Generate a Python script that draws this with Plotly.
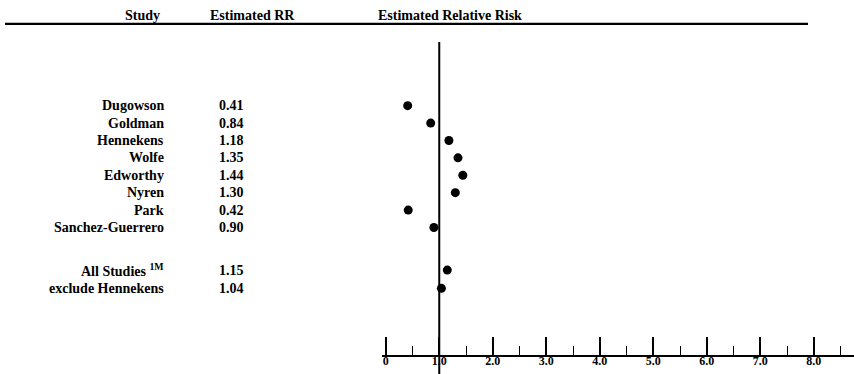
import plotly.graph_objects as go

studies = ["Dugowson", "Goldman", "Hennekens", "Wolfe", "Edworthy", "Nyren", "Park",
           "Sanchez-Guerrero", "All Studies <sup>1M</sup>", "exclude Hennekens"]
rr_values = [0.41, 0.84, 1.18, 1.35, 1.44, 1.30, 0.42, 0.90, 1.15, 1.04]
rr_labels = ["0.41", "0.84", "1.18", "1.35", "1.44", "1.30", "0.42", "0.90", "1.15", "1.04"]
row_pos = [1, 2, 3, 4, 5, 6, 7, 8, 10.45, 11.5]
tick_vals = [0, 1, 2, 3, 4, 5, 6, 7, 8]
tick_text = ["0", "1.0", "2.0", "3.0", "4.0", "5.0", "6.0", "7.0", "8.0"]
headers = ["Study", "Estimated RR", "Estimated Relative Risk"]

W, H = 854, 374
FONT = "Liberation Serif, Times New Roman, serif"

fig = go.Figure()
fig.add_trace(go.Scatter(
    x=rr_values, y=row_pos, mode="markers",
    marker=dict(color="black", size=9),
    hoverinfo="skip", showlegend=False, cliponaxis=False))

annotations = []
for name, lab, y in zip(studies, rr_labels, row_pos):
    annotations.append(dict(x=166 / W, y=y, xref="paper", yref="y", text=f"<b>{name}</b>",
                            showarrow=False, xanchor="right", yanchor="middle",
                            font=dict(family=FONT, size=14, color="black")))
    annotations.append(dict(x=217 / W, y=y, xref="paper", yref="y", text=f"<b>{lab}</b>",
                            showarrow=False, xanchor="left", yanchor="middle",
                            font=dict(family=FONT, size=14, color="black")))

header_x = [142 / W, 252 / W, 376 / W]
header_anchor = ["center", "center", "left"]
for t, hx, anc in zip(headers, header_x, header_anchor):
    annotations.append(dict(x=hx, y=1.062, xref="paper", yref="paper", text=f"<b>{t}</b>",
                            showarrow=False, xanchor=anc, yanchor="bottom", yshift=-2,
                            font=dict(family=FONT, size=14, color="black")))

shapes = [
    dict(type="line", xref="paper", yref="paper", x0=5 / W, x1=808 / W, y0=1.058, y1=1.058,
         line=dict(color="black", width=2.2)),
    dict(type="line", xref="x", yref="paper", x0=1, x1=1, y0=-0.07, y1=1.0,
         line=dict(color="black", width=2)),
]

fig.update_layout(
    width=W, height=H,
    margin=dict(l=0, r=0, t=42, b=19),
    paper_bgcolor="white", plot_bgcolor="white",
    annotations=annotations, shapes=shapes,
    xaxis=dict(domain=[382 / W, 1], range=[-0.07, 8.75],
               showgrid=False, zeroline=False,
               showline=True, linecolor="black", linewidth=1.5,
               ticks="inside", ticklen=18, tickwidth=1.5, tickcolor="black",
               tickvals=tick_vals, ticktext=[f"<b>{t}</b>" for t in tick_text],
               tickfont=dict(family=FONT, size=12, color="black"),
               ticklabelstandoff=-6,
               minor=dict(ticks="inside", ticklen=9, tickwidth=1.2, tickcolor="black", dtick=0.5),
               fixedrange=True),
    yaxis=dict(range=[15.33, -2.66], visible=False, showgrid=False, zeroline=False,
               fixedrange=True),
)

fig.write_html("out.html", config={"displayModeBar": False},
               post_script="document.body.style.margin='0';")
